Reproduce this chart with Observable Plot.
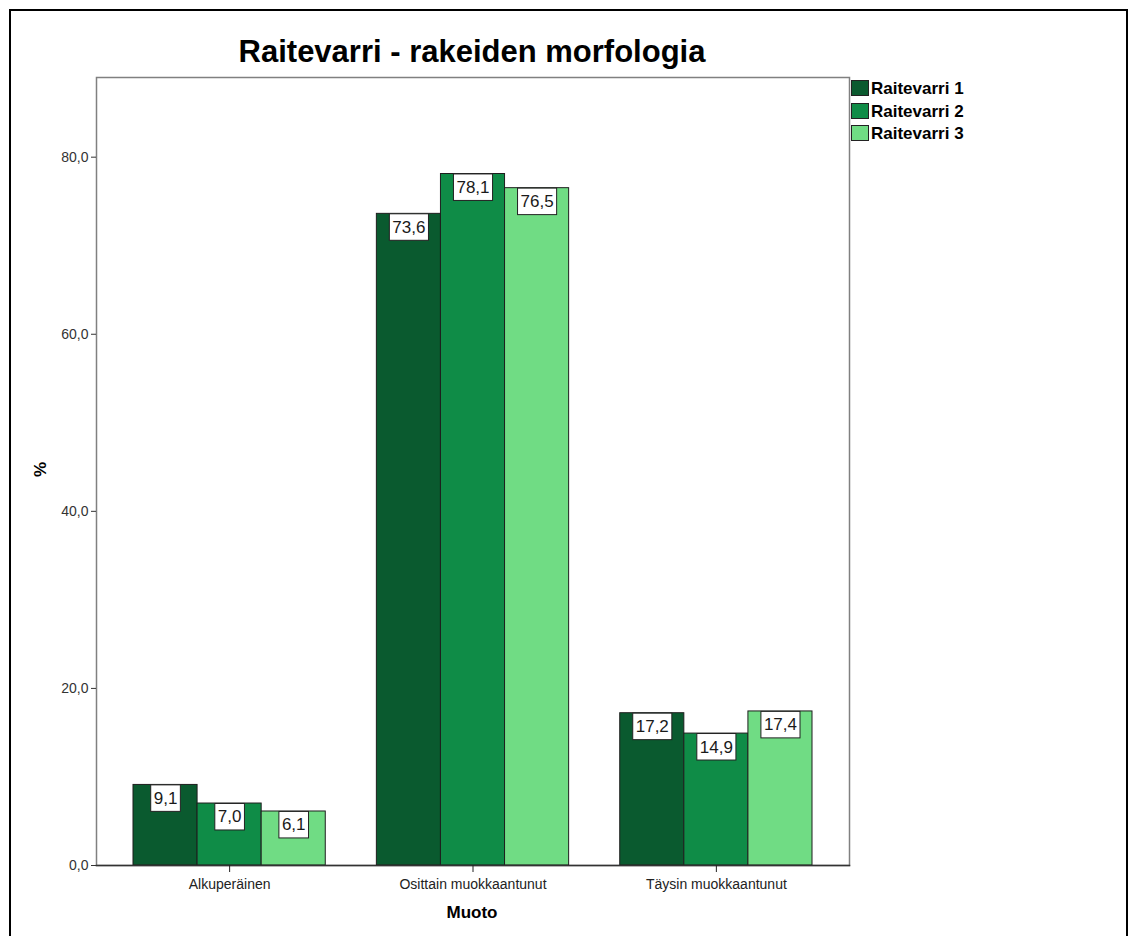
<!DOCTYPE html>
<html>
<head>
<meta charset="utf-8">
<script src="https://cdn.jsdelivr.net/npm/d3@7"></script>
<script src="https://cdn.jsdelivr.net/npm/@observablehq/plot@0.6"></script>
<style>
  html, body { margin: 0; padding: 0; background: #fff; }
  #wrap { position: relative; width: 1130px; height: 936px; overflow: hidden; font-family: "Liberation Sans", Arial, sans-serif; }
  #border { position: absolute; left: 9px; top: 9px; width: 1119px; height: 1000px; border: 2px solid #000; box-sizing: border-box; }
  #title { position: absolute; left: 0; top: 36px; width: 944px; text-align: center; font-size: 31px; line-height: 31px; font-weight: bold; color: #000; }
  #chart { position: absolute; left: 0; top: 0; }
  .leg { position: absolute; left: 851px; font-size: 17px; font-weight: bold; line-height: 17px; color: #000; }
  .leg .sw { position: absolute; left: 0; top: 0; width: 18px; height: 16px; border: 1px solid #222; box-sizing: border-box; }
  .leg .lt { position: absolute; left: 20px; top: 0px; white-space: nowrap; }
  #xlab { position: absolute; left: 372px; width: 200px; top: 904px; text-align: center; font-size: 17px; line-height: 17px; font-weight: bold; }
  #ylab { position: absolute; left: 20px; top: 461px; width: 40px; text-align: center; font-size: 17px; line-height: 17px; font-weight: bold; transform: rotate(-90deg); }
</style>
</head>
<body>
<div id="wrap">
  <div id="border"></div>
  <div id="chart"></div>
  <div id="title">Raitevarri - rakeiden morfologia</div>
  <div id="legend"></div>
  <div id="xlab">Muoto</div>
  <div id="ylab">%</div>
</div>
<script>
const categories = ["Alkuperäinen", "Osittain muokkaantunut", "Täysin muokkaantunut"];
const seriesNames = ["Raitevarri 1", "Raitevarri 2", "Raitevarri 3"];
const raitevarri1 = [9.1, 73.6, 17.2];
const raitevarri2 = [7.0, 78.1, 14.9];
const raitevarri3 = [6.1, 76.5, 17.4];
const seriesColors = ["#0a5a2f", "#0f8c47", "#70dc84"];
const yTicks = [0, 20, 40, 60, 80];

const seriesValues = [raitevarri1, raitevarri2, raitevarri3];
const data = [];
categories.forEach((c, i) => {
  seriesNames.forEach((s, j) => data.push({category: c, series: s, value: seriesValues[j][i]}));
});
const fmt = v => v.toFixed(1).replace(".", ",");

const W = 1130, H = 936, mL = 96, mR = 281, mT = 77, mB = 71;
const pInner = 0.21, pOuter = 0.152;
const step = (W - mL - mR) / (categories.length - pInner + 2 * pOuter);
const outerOffset = pOuter * step;

const chart = Plot.plot({
  width: W,
  height: H,
  marginTop: mT,
  marginLeft: mL,
  marginRight: mR,
  marginBottom: mB,
  style: {fontFamily: "'Liberation Sans', Arial, sans-serif", background: "transparent", color: "#222"},
  fx: {domain: categories, paddingInner: pInner, paddingOuter: pOuter, round: false, label: null},
  x: {domain: seriesNames, padding: 0, round: false, axis: null},
  y: {domain: [0, 89], label: null},
  color: {domain: seriesNames, range: seriesColors},
  marks: [
    Plot.frame({facet: "super", stroke: "#808080", strokeWidth: 1.5, insetLeft: -outerOffset, insetRight: -outerOffset}),
    Plot.barY(data, {fx: "category", x: "series", y: "value", fill: "series", stroke: "#1e1e1e", strokeWidth: 1}),
    Plot.frame({facet: "super", anchor: "bottom", stroke: "#333", strokeWidth: 1.5, insetLeft: -outerOffset, insetRight: -outerOffset}),
    Plot.text(data, {fx: "category", x: "series", y: "value", text: d => fmt(d.value), dy: 13.5, lineAnchor: "middle", fontSize: 17, fill: "#1a1a1a"}),
    Plot.axisY({ticks: yTicks, tickSize: 5, tickPadding: 3, tickFormat: fmt, label: null, fontSize: 14, color: "#333", dx: -outerOffset}),
    Plot.axisFx({anchor: "bottom", tickSize: 7, tickPadding: 7, label: null, fontSize: 14, color: "#222"})
  ]
});
document.getElementById("chart").appendChild(chart);

// white boxes behind value labels
chart.querySelectorAll('g[aria-label="text"] text').forEach(t => {
  const b = t.getBBox();
  const r = document.createElementNS("http://www.w3.org/2000/svg", "rect");
  r.setAttribute("x", b.x - 3);
  r.setAttribute("y", b.y - 4);
  r.setAttribute("width", b.width + 6);
  r.setAttribute("height", b.height + 7.5);
  r.setAttribute("fill", "#fff");
  r.setAttribute("stroke", "#222");
  r.setAttribute("stroke-width", 1);
  const tr = t.getAttribute("transform");
  if (tr) r.setAttribute("transform", tr);
  t.parentNode.insertBefore(r, t);
});

// legend
const legend = document.getElementById("legend");
seriesNames.forEach((s, i) => {
  const row = document.createElement("div");
  row.className = "leg";
  row.style.top = (80 + i * 22.5) + "px";
  row.innerHTML = `<div class="sw" style="background:${seriesColors[i]}"></div><div class="lt">${s}</div>`;
  legend.appendChild(row);
});
</script>
</body>
</html>
